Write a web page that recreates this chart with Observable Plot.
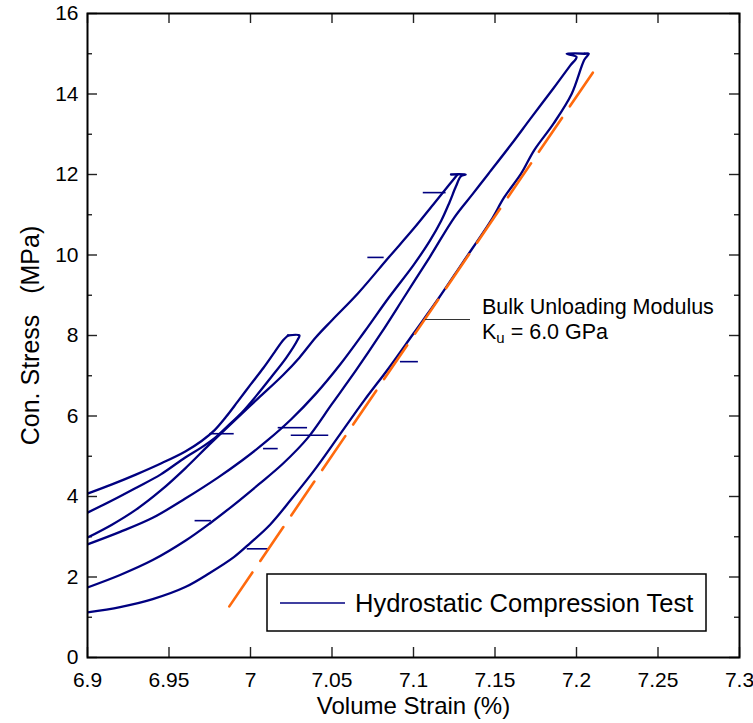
<!DOCTYPE html>
<html>
<head>
<meta charset="utf-8">
<script src="https://cdn.jsdelivr.net/npm/d3@7"></script>
<script src="https://cdn.jsdelivr.net/npm/@observablehq/plot@0.6"></script>
<style>
  html, body { margin: 0; padding: 0; background: white; }
  #chart { width: 753px; height: 723px; }
</style>
</head>
<body>
<div id="chart"></div>
<script>
// ---- Tick labels ----
const xTickLabels = ["6.9", "6.95", "7", "7.05", "7.1", "7.15", "7.2", "7.25", "7.3"];
const yTickLabels = ["0", "2", "4", "6", "8", "10", "12", "14", "16"];
const yMinorTicks = [1, 3, 5, 7, 9, 11, 13, 15];

// ---- Branches of the hydrostatic test (volume strain %, confining stress MPa) ----
// loop 1 loading (to 8 MPa)
const loadA_x = [6.9, 6.915, 6.93, 6.945, 6.96, 6.97, 6.978, 6.985, 6.992, 7.0, 7.008, 7.015, 7.02, 7.023];
const loadA_y = [4.07, 4.3, 4.55, 4.82, 5.12, 5.38, 5.65, 5.98, 6.35, 6.78, 7.2, 7.6, 7.88, 8.0];
// loop 1 unloading
const unloadB_x = [7.023, 7.03, 7.029, 7.022, 7.013, 7.0035, 6.995, 6.986, 6.978, 6.97, 6.96, 6.945, 6.93, 6.915, 6.9];
const unloadB_y = [8.0, 8.0, 7.9, 7.45, 6.98, 6.5, 6.1, 5.75, 5.45, 5.22, 4.97, 4.55, 4.22, 3.9, 3.6];
// loop 2 loading (to 12 MPa)
const loadC_x = [6.9, 6.915, 6.93, 6.945, 6.96, 6.975, 6.99, 7.005, 7.02, 7.03, 7.04, 7.05, 7.066, 7.085, 7.1, 7.113, 7.122, 7.127];
const loadC_y = [2.98, 3.3, 3.68, 4.15, 4.7, 5.3, 5.88, 6.45, 7.02, 7.45, 7.95, 8.38, 9.05, 9.95, 10.65, 11.3, 11.75, 12.0];
// loop 2 unloading
const unloadD_x = [7.123, 7.132, 7.129, 7.126, 7.122, 7.117, 7.11, 7.1, 7.085, 7.07, 7.055, 7.04, 7.025, 7.01, 6.995, 6.98, 6.96, 6.94, 6.92, 6.9];
const unloadD_y = [12.0, 12.0, 11.95, 11.7, 11.3, 10.85, 10.35, 9.75, 8.95, 8.1, 7.28, 6.55, 5.92, 5.38, 4.9, 4.47, 3.95, 3.47, 3.12, 2.81];
// loop 3 loading (to 15 MPa)
const loadE_x = [6.9, 6.92, 6.94, 6.96, 6.975, 6.99, 7.005, 7.02, 7.035, 7.05, 7.065, 7.08, 7.095, 7.11, 7.125, 7.136, 7.146, 7.16, 7.172, 7.186, 7.196, 7.2, 7.194, 7.205];
const loadE_y = [1.74, 2.05, 2.42, 2.9, 3.33, 3.8, 4.3, 4.82, 5.45, 6.3, 7.15, 8.05, 9.0, 9.95, 10.93, 11.5, 12.02, 12.75, 13.4, 14.15, 14.7, 14.92, 15.0, 15.0];
// loop 3 unloading
const unloadF_x = [7.205, 7.2075, 7.2048, 7.197, 7.186, 7.174, 7.166, 7.1556, 7.1476, 7.13, 7.115, 7.1, 7.085, 7.07, 7.055, 7.04, 7.025, 7.012, 7.0, 6.99, 6.975, 6.96, 6.94, 6.92, 6.9];
const unloadF_y = [15.0, 15.0, 14.85, 14.0, 13.27, 12.6, 12.02, 11.43, 10.86, 9.8, 8.9, 8.05, 7.2, 6.4, 5.55, 4.7, 3.93, 3.3, 2.85, 2.5, 2.1, 1.75, 1.45, 1.25, 1.12];

// short horizontal recording glitches
const spikeY  = [2.7, 3.4, 5.19, 5.56, 5.71, 5.52, 7.35, 9.94, 11.55];
const spikeX1 = [6.998, 6.966, 7.008, 6.975, 7.017, 7.025, 7.092, 7.072, 7.106];
const spikeX2 = [7.011, 6.976, 7.017, 6.99, 7.035, 7.048, 7.103, 7.082, 7.12];

// bulk unloading modulus fit line (K = 6.0 GPa)
const fitX = [6.987, 7.21];
const fitY = [1.27, 14.53];

// ---- build tables ----
const branches = [
  ["A", loadA_x, loadA_y], ["B", unloadB_x, unloadB_y],
  ["C", loadC_x, loadC_y], ["D", unloadD_x, unloadD_y],
  ["E", loadE_x, loadE_y], ["F", unloadF_x, unloadF_y]
];
const rows = branches.flatMap(([b, xs, ys]) => xs.map((x, i) => ({branch: b, x, y: ys[i]})));
const spikes = spikeY.map((y, i) => ({y, x1: spikeX1[i], x2: spikeX2[i]}));
const fit = fitX.map((x, i) => ({x, y: fitY[i]}));
const xTicks = xTickLabels.map(Number);
const yTicks = yTickLabels.map(Number);

const W = 753, H = 723, mL = 87, mR = 14, mT = 13, mB = 66;
const fw = W - mL - mR, fh = H - mT - mB;
const navy = "#000080";
const font = "'Liberation Sans', Arial, Helvetica, sans-serif";

const chart = Plot.plot({
  width: W, height: H,
  marginLeft: mL, marginRight: mR, marginTop: mT, marginBottom: mB,
  x: {domain: [6.9, 7.3]},
  y: {domain: [0, 16]},
  style: {fontFamily: font, fontSize: "21px", background: "white", color: "black", overflow: "visible"},
  marks: [
    Plot.axisX(xTicks, {anchor: "bottom", tickSize: 0, tickPadding: 15, tickFormat: (d, i) => xTickLabels[i], fontSize: 21, label: null}),
    Plot.axisY(yTicks, {anchor: "left", tickSize: 0, tickPadding: 9, tickFormat: (d, i) => yTickLabels[i], fontSize: 21, label: null}),
    // inward ticks on all four sides
    Plot.tickX(xTicks, {x: d => d, insetTop: fh - 10, stroke: "#222", strokeWidth: 1.4}),
    Plot.tickX(xTicks, {x: d => d, insetBottom: fh - 10, stroke: "#222", strokeWidth: 1.4}),
    Plot.tickY(yTicks, {y: d => d, insetRight: fw - 10, stroke: "#222", strokeWidth: 1.4}),
    Plot.tickY(yTicks, {y: d => d, insetLeft: fw - 10, stroke: "#222", strokeWidth: 1.4}),
    Plot.tickY(yMinorTicks, {y: d => d, insetRight: fw - 5, stroke: "#222", strokeWidth: 1.4}),
    Plot.tickY(yMinorTicks, {y: d => d, insetLeft: fw - 5, stroke: "#222", strokeWidth: 1.4}),
    Plot.line(rows, {x: "x", y: "y", z: "branch", stroke: navy, strokeWidth: 2.3, curve: "catmull-rom", clip: true}),
    Plot.ruleY(spikes, {y: "y", x1: "x1", x2: "x2", stroke: navy, strokeWidth: 1.6, clip: true}),
    Plot.line(fit, {x: "x", y: "y", stroke: "#ff6a0d", strokeWidth: 2.6, strokeDasharray: "41,14"}),
    Plot.frame({stroke: "black", strokeWidth: 2}),
    Plot.text(["Volume Strain (%)"], {frameAnchor: "bottom", dy: 56, fontSize: 24}),
    Plot.text(["Con. Stress\u00a0\u00a0 (MPa)"], {frameAnchor: "left", textAnchor: "middle", dx: -57, rotate: -90, fontSize: 25})
  ]
});
document.getElementById("chart").appendChild(chart);

// ---- annotation and legend overlay ----
const svg = d3.select(chart);
const g = svg.append("g").attr("font-family", font).attr("fill", "black").attr("text-anchor", "start");
g.append("line").attr("x1", 425).attr("x2", 470).attr("y1", 319.5).attr("y2", 319.5)
  .attr("stroke", "#333").attr("stroke-width", 1.1);
g.append("text").attr("x", 482).attr("y", 314).attr("font-size", 21.5).text("Bulk Unloading Modulus");
const t2 = g.append("text").attr("x", 482).attr("y", 339).attr("font-size", 21.5);
t2.append("tspan").text("K");
t2.append("tspan").attr("font-size", 15).attr("dy", 4).text("u");
t2.append("tspan").attr("dy", -4).text(" = 6.0 GPa");

g.append("rect").attr("x", 267).attr("y", 574).attr("width", 439).attr("height", 57)
  .attr("fill", "white").attr("stroke", "black").attr("stroke-width", 1.5);
g.append("line").attr("x1", 280).attr("x2", 345).attr("y1", 603).attr("y2", 603)
  .attr("stroke", navy).attr("stroke-width", 1.3);
g.append("text").attr("x", 355).attr("y", 612).attr("font-size", 25.5).text("Hydrostatic Compression Test");
</script>
</body>
</html>
